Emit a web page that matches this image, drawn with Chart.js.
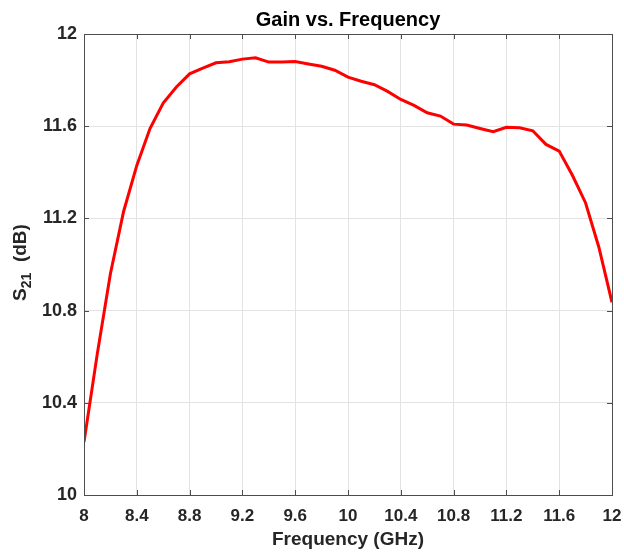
<!DOCTYPE html>
<html>
<head>
<meta charset="utf-8">
<style>
  html, body { margin: 0; padding: 0; background: #fff; }
  #wrap { width: 624px; height: 553px; }
</style>
<script src="https://cdn.jsdelivr.net/npm/chart.js"></script>
</head>
<body>
<div id="wrap"><canvas id="gain"></canvas></div>
<script>
// frequency points (GHz) and measured gain (dB)
const freq = [8.0, 8.1, 8.2, 8.3, 8.4, 8.5, 8.6, 8.7, 8.8, 8.9,
              9.0, 9.1, 9.2, 9.3, 9.4, 9.5, 9.6, 9.7, 9.8, 9.9,
              10.0, 10.1, 10.2, 10.3, 10.4, 10.5, 10.6, 10.7, 10.8, 10.9,
              11.0, 11.1, 11.2, 11.3, 11.4, 11.5, 11.6, 11.7, 11.8, 11.9, 12.0];
const s21 = [10.23, 10.61, 10.96, 11.23, 11.43, 11.59, 11.70, 11.77, 11.827, 11.852,
             11.875, 11.88, 11.891, 11.897, 11.878, 11.878, 11.881, 11.87, 11.86, 11.843,
             11.813, 11.795, 11.78, 11.751, 11.716, 11.69, 11.658, 11.644, 11.609, 11.605,
             11.59, 11.576, 11.595, 11.593, 11.58, 11.521, 11.492, 11.387, 11.267, 11.076, 10.836];
const xTicks = [8, 8.4, 8.8, 9.2, 9.6, 10, 10.4, 10.8, 11.2, 11.6, 12];
const yTicks = [10, 10.4, 10.8, 11.2, 11.6, 12];

const fontFam = '"Liberation Sans", Arial, sans-serif';
const axisCol = '#262626';

// box around the axes + inward ticks, title and y label, like matlab
const boxPlugin = {
  id: 'box',
  afterDatasetsDraw(chart) {
    const { ctx, chartArea: a, scales } = chart;
    ctx.save();
    ctx.strokeStyle = '#4d4d4d';
    ctx.lineWidth = 1;
    ctx.beginPath();
    xTicks.forEach(v => {
      const px = Math.round(scales.x.getPixelForValue(v)) + 0.5;
      ctx.moveTo(px, a.bottom); ctx.lineTo(px, a.bottom - 5);
      ctx.moveTo(px, a.top); ctx.lineTo(px, a.top + 5);
    });
    yTicks.forEach(v => {
      const py = Math.round(scales.y.getPixelForValue(v)) + 0.5;
      ctx.moveTo(a.left, py); ctx.lineTo(a.left + 5, py);
      ctx.moveTo(a.right, py); ctx.lineTo(a.right - 5, py);
    });
    ctx.stroke();
    ctx.strokeRect(Math.round(a.left) + 0.5, Math.round(a.top) + 0.5,
                   Math.round(a.right - a.left), Math.round(a.bottom - a.top));

    // title centred over the axes
    ctx.fillStyle = '#000';
    ctx.font = 'bold 20px ' + fontFam;
    ctx.textAlign = 'center';
    ctx.textBaseline = 'alphabetic';
    ctx.fillText('Gain vs. Frequency', (a.left + a.right) / 2, 26);

    // y label with a real subscript
    ctx.textAlign = 'left';
    const cy = (a.top + a.bottom) / 2 - 2;
    ctx.translate(26, cy);
    ctx.rotate(-Math.PI / 2);
    ctx.fillStyle = axisCol;
    const big = 'bold 19px ' + fontFam, small = 'bold 14px ' + fontFam;
    ctx.font = big;  const wS = ctx.measureText('S').width;
    const wRest = ctx.measureText('  (dB)').width;
    ctx.font = small; const wSub = ctx.measureText('21').width;
    let x0 = -(wS + wSub + wRest) / 2;
    ctx.font = big;  ctx.fillText('S', x0, 0);
    ctx.font = small; ctx.fillText('21', x0 + wS, 5);
    ctx.font = big;  ctx.fillText('  (dB)', x0 + wS + wSub, 0);
    ctx.restore();
  }
};

new Chart(document.getElementById('gain'), {
  type: 'line',
  data: {
    datasets: [{
      data: freq.map((f, i) => ({ x: f, y: s21[i] })),
      borderColor: '#ff0000',
      borderWidth: 3,
      pointRadius: 0,
      tension: 0,
      fill: false
    }]
  },
  options: {
    responsive: true,
    maintainAspectRatio: false,
    animation: false,
    layout: { padding: { left: 0, right: 12, top: 34, bottom: 0 } },
    plugins: {
      legend: { display: false },
      tooltip: { enabled: false },
      title: { display: false }
    },
    scales: {
      x: {
        type: 'linear',
        min: 8, max: 12,
        afterFit(s) { s.height = 58; s.paddingLeft = 0; s.paddingRight = 0; },
        afterBuildTicks(s) { s.ticks = xTicks.map(v => ({ value: v })); },
        grid: { color: '#e3e3e3', drawTicks: false },
        border: { display: false },
        ticks: {
          color: axisCol, padding: 11,
          font: { family: fontFam, size: 17, weight: 'bold' },
          callback: v => String(+v.toFixed(1))
        },
        title: {
          display: true, text: 'Frequency (GHz)', color: axisCol,
          font: { family: fontFam, size: 19, weight: 'bold' },
          padding: { top: 0, bottom: 2 }
        }
      },
      y: {
        min: 10, max: 12,
        afterFit(s) { s.width = 84; s.paddingTop = 0; s.paddingBottom = 0; },
        afterBuildTicks(s) { s.ticks = yTicks.map(v => ({ value: v })); },
        grid: { color: '#e3e3e3', drawTicks: false },
        border: { display: false },
        ticks: {
          color: axisCol, padding: 7,
          font: { family: fontFam, size: 18, weight: 'bold' },
          callback: v => String(+v.toFixed(1))
        }
      }
    }
  },
  plugins: [boxPlugin]
});
</script>
</body>
</html>
